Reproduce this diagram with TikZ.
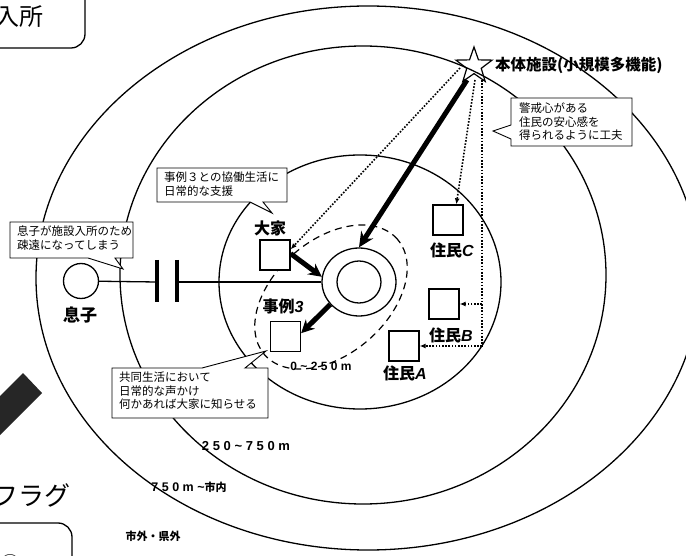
\documentclass[tikz,border=0pt]{standalone}
\usepackage{fontspec}
\usetikzlibrary{shapes.geometric,arrows.meta}
\newfontfamily\jp{Noto Sans CJK JP}
\newfontfamily\latsp[LetterSpace=28]{Liberation Sans}
\newfontfamily\lat{Liberation Sans}
\tikzset{
 ring/.style={line width=1.3pt},
 sqbox/.style={draw, line width=1.3pt, minimum size=30pt, inner sep=0pt, fill=white},
 lbl/.style={font=\jp\bfseries\fontsize{16}{18}\selectfont, inner sep=0pt},
 dist/.style={font=\latsp\bfseries\fontsize{12}{14}\selectfont, inner sep=0pt},
 ctext/.style={font=\jp\fontsize{11.5}{13.5}\selectfont, align=left, inner sep=0pt, anchor=north west},
 callout/.style={draw, line width=0.9pt, fill=white, line join=miter},
 bigarrow/.style={line width=5pt, -{Stealth[length=15pt,width=14pt]}},
 dots/.style={line width=1.6pt, dash pattern=on 1.6pt off 1.6pt},
 dotarrow/.style={dots, -{Latex[length=6pt,width=5pt]}},
}
\begin{document}
\begin{tikzpicture}[x=1pt,y=-1pt]
\useasboundingbox (0,0) rectangle (686,556);
\clip (0,0) rectangle (686,556);
\fill[white] (0,0) rectangle (686,556);

% distance rings
\draw[ring] (368,278) ellipse [x radius=332pt, y radius=272pt];
\draw[ring] (363,275) ellipse [x radius=243pt, y radius=229pt];
\draw[ring] (360,282) ellipse [x radius=141pt, y radius=127pt];

% left edge fragments
\draw[line width=1.3pt, rounded corners=14pt] (-20,-20) rectangle (85,48);
\node[font=\jp\fontsize{24}{26}\selectfont, anchor=east, inner sep=0pt] (nyusho) at (44,17) {入所};
\fill[black!85] (23,373) -- (42,393) -- (0,435) -- (0,396) -- cycle;
\node[font=\jp\fontsize{26}{28}\selectfont, anchor=east, inner sep=0pt] (flag) at (71,495) {フラグ};
\draw[line width=1.3pt, rounded corners=14pt] (-20,523) rectangle (72,600);
\node[font=\jp\fontsize{20}{22}\selectfont, inner sep=0pt] (circ1) at (10,564) {①};

% dashed neighbourhood
\draw[line width=1.2pt, dash pattern=on 7pt off 5pt, rotate around={41:(331,297)}] (331,297) ellipse [x radius=88pt, y radius=57pt];

% centre
\node[ellipse, draw, ring, minimum width=74pt, minimum height=68pt, inner sep=0pt] (ctr) at (359,282) {};
\node[ellipse, draw, ring, minimum width=44pt, minimum height=42pt, inner sep=0pt] (ctrin) at (359,282) {};

% son
\node[circle, draw, ring, minimum size=35pt, inner sep=0pt] (son) at (81,281) {};
\node[lbl, font=\jp\bfseries\fontsize{17}{19}\selectfont] (sonl) at (80,315) {息子};
\coordinate (b1) at (157,282);
\coordinate (b2) at (177,282);
\draw[ring] (son) -- (b1);
\draw[ring] (b2) -- (ctr);
\draw[line width=4pt] (157,260) -- (157,302);
\draw[line width=4pt] (177,260) -- (177,302);

% houses
\node[sqbox] (ooya) at (275,255) {};
\node[lbl] (ooyal) at (270,228) {大家};
\node[sqbox] (jirei) at (285.5,336.5) {};
\node[lbl] (jireil) at (283,306) {事例{\lat\bfseries\itshape 3}};
\node[sqbox] (resC) at (448,220) {};
\node[lbl] (resCl) at (452,250) {住民{\lat\bfseries\itshape C}};
\node[sqbox] (resB) at (444,304) {};
\node[lbl] (resBl) at (451,335) {住民{\lat\bfseries\itshape B}};
\node[sqbox] (resA) at (404,346) {};
\node[lbl] (resAl) at (405,373) {住民{\lat\bfseries\itshape A}};

% facility
\node[star, star points=5, star point ratio=2.5, draw, line width=1.2pt, minimum size=38pt, inner sep=0pt] (star) at (474,66) {};
\node[lbl, font=\jp\bfseries\fontsize{15.5}{17}\selectfont, anchor=west] (starl) at (495,65) {本体施設(小規模多機能)};

% dotted watch lines
\coordinate (sd1) at (460,68);
\draw[dotarrow] (sd1) -- (ooya.20);
\coordinate (sd2) at (475,80);
\draw[dotarrow] (sd2) -- (resC.62);
\coordinate (vt) at (482,80);
\coordinate (vb) at (482,304);
\coordinate (vc) at (482,346);
\draw[dots] (vt) -- (vc);
\draw[dotarrow] (vc) -- (resA.east);
\draw[dotarrow] (vb) -- (resB.east);

% thick arrows
\coordinate (sa) at (467,80);
\draw[bigarrow] (sa) -- (ctr.north);
\draw[bigarrow, -{Stealth[length=13pt,width=13pt]}] (ooya.5) -- (ctr.172);
\draw[bigarrow, -{Stealth[length=13pt,width=13pt]}] (ctr.218) -- (jirei.12);

% callouts
\draw[callout] (10,222) -- (133,222) -- (133,258) -- (115,258) -- (123,269) -- (88,258) -- (10,258) -- cycle;
\node[ctext] (tA) at (17,226) {息子が施設入所のため\\疎遠になってしまう};
\draw[callout] (157,168) -- (287,168) -- (287,202) -- (263,202) -- (272,213) -- (250,202) -- (157,202) -- cycle;
\node[ctext] (tB) at (164,172) {事例３との協働生活に\\日常的な支援};
\draw[callout] (511,98) -- (632,98) -- (632,146) -- (511,146) -- (511,139) -- (493,131) -- (511,125) -- cycle;
\node[ctext] (tC) at (519,103) {警戒心がある\\住民の安心感を\\得られるように工夫};
\draw[callout] (112,368) -- (202,368) -- (266,351) -- (245,368) -- (268,368) -- (268,418) -- (112,418) -- cycle;
\node[ctext] (tD) at (119,372) {共同生活において\\日常的な声かけ\\何かあれば大家に知らせる};

% distance labels
\node[dist] (d1) at (321,366) {0\textasciitilde250m};
\node[dist, font=\latsp\bfseries\fontsize{13}{15}\selectfont] (d2) at (246,446) {250\textasciitilde750m};
\node[dist, font=\latsp\bfseries\fontsize{12.5}{14}\selectfont] (d3) at (189,487) {750m\textasciitilde{\jp\bfseries\fontsize{11}{13}\selectfont 市内}};
\node[lbl, font=\jp\bfseries\fontsize{11}{13}\selectfont] (d4) at (153,536) {市外・県外};
\end{tikzpicture}
\end{document}
